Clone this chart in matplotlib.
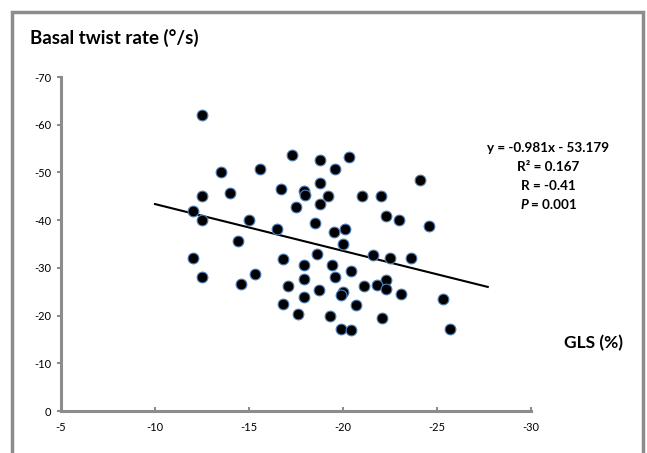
import matplotlib
matplotlib.use("Agg")
import matplotlib.pyplot as plt
from matplotlib.patches import Rectangle
import numpy as np

# GLS (%) vs basal twist rate (deg/s)
gls = [-12.5, -17.3, -20.3, -18.8, -15.6, -19.6, -13.5, -24.1, -18.8, -16.7,
       -17.9, -18.0, -14.0, -12.5, -19.2, -21.0, -22.0, -18.8, -17.5, -12.0,
       -22.3, -12.5, -15.0, -23.0, -18.5, -24.6, -16.5, -20.1, -19.5, -14.4,
       -20.0, -18.6, -21.6, -12.0, -16.8, -22.5, -23.6, -17.9, -19.4, -20.4,
       -15.3, -12.5, -19.6, -17.9, -22.3, -14.6, -17.1, -21.1, -21.8, -18.7,
       -22.3, -20.0, -19.9, -23.1, -17.9, -25.3, -16.8, -20.7, -17.6, -19.3,
       -22.1, -19.9, -20.4, -25.7]
twist = [-62.0, -53.7, -53.3, -52.7, -50.7, -50.8, -50.0, -48.4, -47.8, -46.5,
         -46.1, -45.3, -45.6, -45.1, -45.1, -45.1, -45.1, -43.3, -42.7, -42.0,
         -40.8, -40.1, -40.1, -40.1, -39.4, -38.75, -38.2, -38.1, -37.6, -35.7,
         -35.1, -32.8, -32.6, -32.1, -31.9, -32.1, -32.1, -30.6, -30.7, -29.3,
         -28.8, -28.1, -28.1, -27.6, -27.4, -26.7, -26.2, -26.1, -26.5, -25.4,
         -25.5, -25.0, -24.3, -24.6, -23.9, -23.5, -22.5, -22.2, -20.3, -19.9,
         -19.4, -17.1, -17.0, -17.2]

slope = -0.981
intercept = -53.179
fit_range = [-10, -27.7]

plt.rcParams['font.family'] = ['Lato', 'DejaVu Sans']

fig = plt.figure(figsize=(6.47, 4.53), dpi=100)
ax = fig.add_axes([61 / 647, 1 - 411 / 453, 470 / 647, 334 / 453])

ax.scatter(gls, twist, s=60, c='black', edgecolors='#4f81bd', linewidths=0.8, zorder=3)
fx = np.array(fit_range)
ax.plot(fx, slope * fx + intercept, color='black', lw=1.5, zorder=2)

ax.set_xlim(-5, -30)
ax.set_ylim(0, -70)
ax.set_xticks(np.arange(-5, -31, -5))
ax.set_yticks(np.arange(0, -71, -10))
ax.xaxis.set_major_formatter(plt.FuncFormatter(lambda v, p: f'{int(v)}'))
ax.yaxis.set_major_formatter(plt.FuncFormatter(lambda v, p: f'{int(v)}'))

for s in ['top', 'right']:
    ax.spines[s].set_visible(False)
for s in ['left', 'bottom']:
    ax.spines[s].set_color('#8c8c8c')
    ax.spines[s].set_linewidth(2.2)
ax.tick_params(axis='x', direction='in', length=3, width=1.5, color='#8c8c8c',
               labelsize=8, pad=8)
ax.tick_params(axis='y', direction='out', length=3, width=1.5, color='#8c8c8c',
               labelsize=8, pad=4)

fig.text(30 / 647, 1 - 38 / 453, 'Basal twist rate (°/s)', fontsize=13.5,
         fontweight='bold', va='center', ha='left')
fig.text(594 / 647, 1 - 343 / 453, 'GLS (%)', fontsize=12.5,
         fontweight='bold', va='center', ha='center')

stats = ['y = -0.981x - 53.179', 'R² = 0.167', 'R = -0.41']
for i, t in enumerate(stats):
    fig.text(548 / 647, 1 - (148 + 19 * i) / 453, t, fontsize=9.7,
             fontweight='bold', ha='center', va='center')
py = 1 - (148 + 19 * 3) / 453
fig.text(528 / 647, py, 'P', fontsize=9.7, fontweight='bold', style='italic',
         ha='right', va='center')
fig.text(531 / 647, py, '= 0.001', fontsize=9.7, fontweight='bold',
         ha='left', va='center')

# outer chart border
fig.patches.append(Rectangle((12 / 647, -0.05), 631 / 647, 1 - 12 / 453 + 0.05,
                             transform=fig.transFigure, fill=False,
                             edgecolor='#8c8c8c', lw=2.5))

fig.savefig('out.png', dpi=100)
